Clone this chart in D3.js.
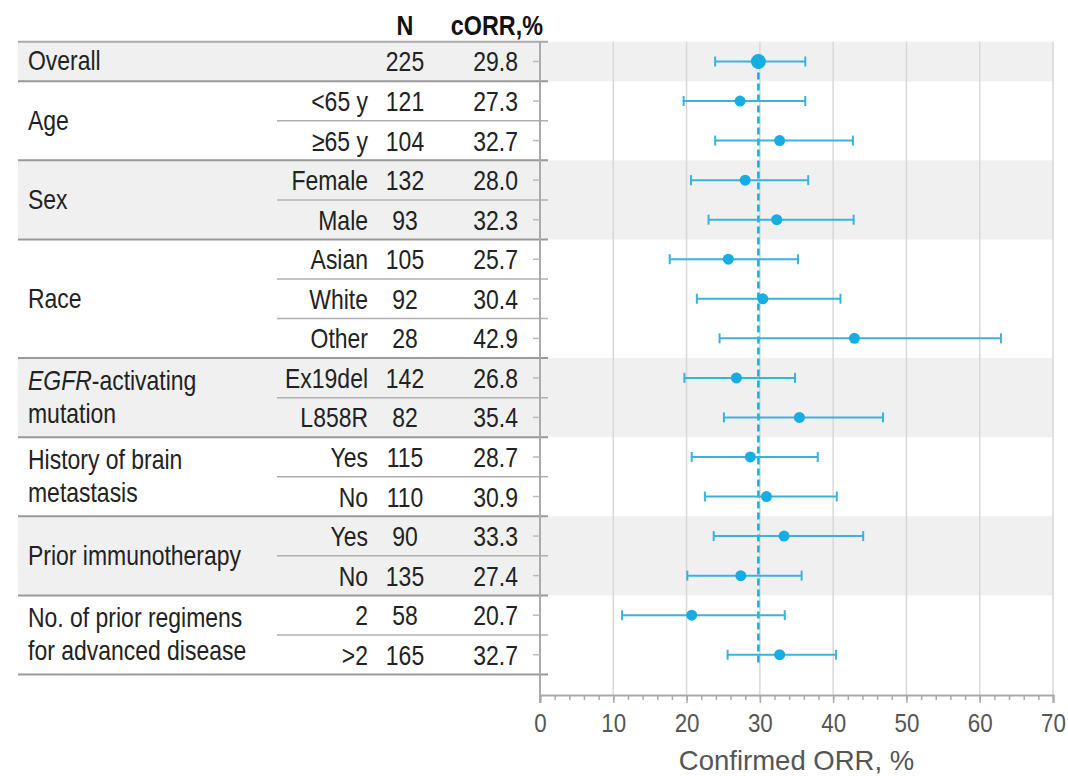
<!DOCTYPE html>
<html>
<head>
<meta charset="utf-8">
<script src="https://cdn.jsdelivr.net/npm/d3@7"></script>
<style>
  body { margin: 0; background: #fff; }
  svg { display: block; font-family: "Liberation Sans", Arial, sans-serif; }
</style>
</head>
<body>
<svg id="chart" width="1068" height="776"></svg>
<script>
// group labels ("_x_" = italic, "\n" = line break) and number of rows per group
const groupLabels = ["Overall", "Age", "Sex", "Race", "_EGFR_-activating\nmutation",
    "History of brain\nmetastasis", "Prior immunotherapy", "No. of prior regimens\nfor advanced disease"];
const groupSizes = [1, 2, 2, 3, 2, 2, 2, 2];
const subgroups = ["", "<65 y", "≥65 y", "Female", "Male", "Asian", "White", "Other",
    "Ex19del", "L858R", "Yes", "No", "Yes", "No", "2", ">2"];
const nValues = [225, 121, 104, 132, 93, 105, 92, 28, 142, 82, 115, 110, 90, 135, 58, 165];
const orrValues = [29.8, 27.3, 32.7, 28.0, 32.3, 25.7, 30.4, 42.9, 26.8, 35.4, 28.7, 30.9, 33.3, 27.4, 20.7, 32.7];
const ciLow = [23.9, 19.6, 23.9, 20.6, 23.0, 17.7, 21.4, 24.5, 19.7, 25.1, 20.7, 22.5, 23.7, 20.1, 11.2, 25.6];
const ciHigh = [36.2, 36.2, 42.7, 36.6, 42.8, 35.2, 41.0, 62.9, 34.8, 46.8, 37.9, 40.5, 44.1, 35.7, 33.4, 40.4];
const refValue = 29.8;
const xTicks = [0, 10, 20, 30, 40, 50, 60, 70];

const
    svg = d3.select("#chart"),
    tableLeft = 18,
    subLineLeft = 277,
    plotLeft = 540,
    plotRight = 1053,
    topY = 41.7,
    bottomY = 674.5,
    axisY = 695,
    blue = "#16ade2",
    fontSize = 28,
    squeeze = 0.82; // condensed look of the original font

const x = d3.scaleLinear().domain([0, 70]).range([plotLeft, plotRight]);
const y = d3.scaleBand().domain(d3.range(nValues.length)).range([topY, bottomY]);
const bw = y.bandwidth();
const cy = i => y(i) + bw / 2;
const at = (px, py, s = squeeze) => `translate(${px},${py}) scale(${s},1)`;

// group start / end rows
let start = 0;
const groups = groupSizes.map((size, g) => {
    const o = { label: groupLabels[g], from: start, to: start + size - 1, shaded: g % 2 === 0 };
    start += size;
    return o;
});

// shaded bands
svg.append("g").selectAll("rect")
    .data(groups.filter(g => g.shaded))
    .join("rect")
    .attr("x", tableLeft)
    .attr("y", g => y(g.from))
    .attr("width", plotRight - tableLeft)
    .attr("height", g => (g.to - g.from + 1) * bw)
    .attr("fill", "#f0f0f0");

// vertical grid lines
svg.append("g").selectAll("line")
    .data(xTicks.slice(1))
    .join("line")
    .attr("x1", d => x(d)).attr("x2", d => x(d))
    .attr("y1", topY).attr("y2", axisY)
    .attr("stroke", "#d8d8d8")
    .attr("stroke-width", 1.5);

// table lines
const lines = svg.append("g");
lines.append("line")
    .attr("x1", tableLeft).attr("x2", plotLeft + 8)
    .attr("y1", topY).attr("y2", topY)
    .attr("stroke", "#aaa").attr("stroke-width", 2);
groups.forEach(g => {
    lines.append("line")
        .attr("x1", tableLeft).attr("x2", plotLeft + 8)
        .attr("y1", y(g.to) + bw).attr("y2", y(g.to) + bw)
        .attr("stroke", "#999").attr("stroke-width", 2);
    for (let r = g.from; r < g.to; r++) {
        lines.append("line")
            .attr("x1", subLineLeft).attr("x2", plotLeft + 8)
            .attr("y1", y(r) + bw).attr("y2", y(r) + bw)
            .attr("stroke", "#b0b0b0").attr("stroke-width", 1.5);
    }
});

// y axis line and row ticks
lines.append("line")
    .attr("x1", plotLeft).attr("x2", plotLeft)
    .attr("y1", topY).attr("y2", axisY + 8)
    .attr("stroke", "#aaa").attr("stroke-width", 2);
lines.selectAll(".rtick")
    .data(nValues)
    .join("line")
    .attr("class", "rtick")
    .attr("x1", plotLeft - 7).attr("x2", plotLeft)
    .attr("y1", (d, i) => cy(i)).attr("y2", (d, i) => cy(i))
    .attr("stroke", "#bbb").attr("stroke-width", 1.5);

// header
const header = svg.append("g")
    .attr("font-weight", "bold")
    .attr("font-size", 28.5)
    .attr("fill", "#111");
header.append("text").attr("transform", at(405, 35)).attr("text-anchor", "middle").text("N");
header.append("text").attr("transform", at(543, 35)).attr("text-anchor", "end").text("cORR,%");

// group labels
const glab = svg.append("g").attr("font-size", fontSize).attr("fill", "#222");
groups.forEach(g => {
    const parts = g.label.split("\n");
    const mid = (y(g.from) + y(g.to) + bw) / 2;
    const lineH = 33;
    const first = mid + 9 - (parts.length - 1) * lineH / 2;
    parts.forEach((p, k) => {
        const t = glab.append("text").attr("transform", at(28, first + k * lineH));
        p.split("_").forEach((seg, s) => {
            if (!seg) return;
            t.append("tspan").text(seg).attr("font-style", s % 2 ? "italic" : null);
        });
    });
});

// subgroup, N and ORR columns
const cols = svg.append("g").attr("font-size", fontSize).attr("fill", "#222");
cols.selectAll(".sub")
    .data(subgroups)
    .join("text")
    .attr("transform", (d, i) => at(368, cy(i) + 10))
    .attr("text-anchor", "end")
    .text(d => d);
cols.selectAll(".n")
    .data(nValues)
    .join("text")
    .attr("transform", (d, i) => at(405, cy(i) + 10))
    .attr("text-anchor", "middle")
    .text(d => d);
cols.selectAll(".orr")
    .data(orrValues)
    .join("text")
    .attr("transform", (d, i) => at(518, cy(i) + 10))
    .attr("text-anchor", "end")
    .text(d => d.toFixed(1));

// x axis
const axisG = svg.append("g").attr("transform", `translate(0,${axisY})`);
axisG.call(d3.axisBottom(x).tickValues(d3.range(0, 71, 2)).tickSize(5).tickFormat(""));
axisG.call(g => g.selectAll(".tick line").attr("stroke", "#aaa").attr("stroke-width", 1.5));
axisG.select(".domain").remove();
const majorG = svg.append("g").attr("transform", `translate(0,${axisY})`);
majorG.call(d3.axisBottom(x).tickValues(xTicks).tickSize(8).tickPadding(9));
majorG.select(".domain").attr("stroke", "#aaa").attr("stroke-width", 2);
majorG.selectAll(".tick line").attr("stroke", "#aaa").attr("stroke-width", 1.5);
majorG.selectAll(".tick text")
    .attr("font-size", 26)
    .attr("font-family", "'Liberation Sans', Arial, sans-serif")
    .attr("fill", "#555")
    .attr("y", null).attr("dy", null)
    .attr("transform", at(0, 37, 0.86));

svg.append("text")
    .attr("x", (plotLeft + plotRight) / 2)
    .attr("y", 770)
    .attr("text-anchor", "middle")
    .attr("font-size", 27.5)
    .attr("fill", "#555")
    .text("Confirmed ORR, %");

// reference line
svg.append("line")
    .attr("x1", x(refValue)).attr("x2", x(refValue))
    .attr("y1", cy(0)).attr("y2", bottomY - 8)
    .attr("stroke", blue)
    .attr("stroke-width", 2.5)
    .attr("stroke-dasharray", "7,4");

// error bars and points
const marks = svg.append("g");
nValues.forEach((n, i) => {
    const g = marks.append("g").attr("stroke", "#3ab2de").attr("stroke-width", 2);
    g.append("line").attr("x1", x(ciLow[i])).attr("x2", x(ciHigh[i])).attr("y1", cy(i)).attr("y2", cy(i));
    [ciLow[i], ciHigh[i]].forEach(v => {
        g.append("line").attr("x1", x(v)).attr("x2", x(v)).attr("y1", cy(i) - 5).attr("y2", cy(i) + 5);
    });
    marks.append("circle")
        .attr("cx", x(orrValues[i])).attr("cy", cy(i))
        .attr("r", i === 0 ? 7.5 : 5.5)
        .attr("fill", blue);
});
</script>
</body>
</html>
